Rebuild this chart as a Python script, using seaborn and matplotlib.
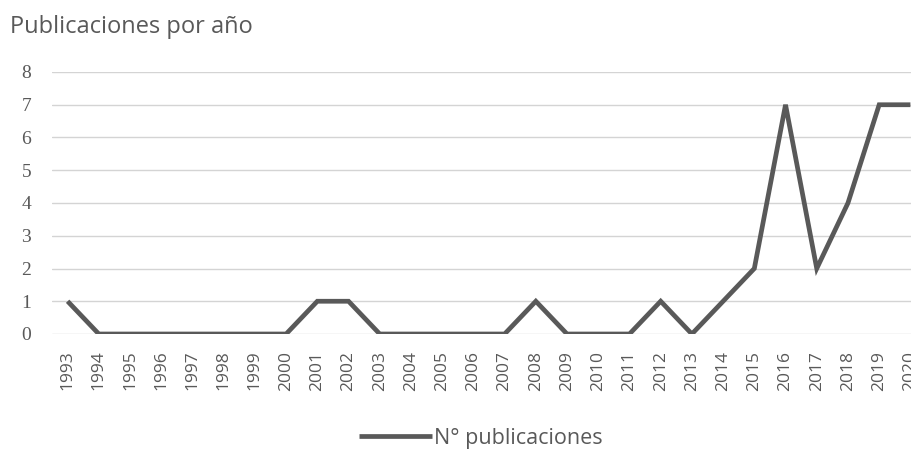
import numpy as np
import pandas as pd
import seaborn as sns
import matplotlib.pyplot as plt

# data
years = list(range(1993, 2021))
publicaciones = [1, 0, 0, 0, 0, 0, 0, 0, 1, 1, 0, 0, 0, 0, 0, 1, 0, 0, 0, 1, 0, 1, 2, 7, 2, 4, 7, 7]
y_ticks = list(range(0, 9))

df = pd.DataFrame({'year': years, 'n': publicaciones})

sns.set_theme(style='white')
plt.rcParams['font.family'] = ['Open Sans', 'DejaVu Sans']

TXT = '#595959'
fig = plt.figure(figsize=(9.11, 4.54), dpi=100)
# chart area is cropped on the right in the original, so axes run past the figure edge
ax = fig.add_axes([52 / 911, 120 / 454, (926 - 52) / 911, (334 - 72) / 454])

sns.lineplot(data=df, x='year', y='n', ax=ax, color='#595959', linewidth=3.4,
             label='N° publicaciones', solid_joinstyle='miter', solid_capstyle='butt')

ax.set_xlim(1992.5, 2020.5)
ax.set_ylim(0, 8)
ax.set_xticks(years)
ax.set_xticklabels([str(y) for y in years], rotation=90, fontsize=12.5, color=TXT)
ax.set_yticks(y_ticks)
ax.set_yticklabels([str(v) for v in y_ticks], fontsize=14, color=TXT, family='Liberation Serif')
ax.tick_params(axis='x', length=0, pad=12)
ax.tick_params(axis='y', length=0, pad=15)
ax.set_xlabel('')
ax.set_ylabel('')
ax.grid(axis='y', color='#d4d4d4', linewidth=1.0)
ax.set_axisbelow(True)
for s in ax.spines.values():
    s.set_visible(False)

ax.get_legend().remove()
h, l = ax.get_legend_handles_labels()
fig.legend(h, l, loc='center', bbox_to_anchor=(0.528, 0.035), frameon=False,
           fontsize=15.5, handlelength=3.4, handletextpad=0.1, labelcolor=TXT,
           borderpad=0)

fig.text(10 / 911, 1 - 27 / 454, 'Publicaciones por año', fontsize=17, color=TXT,
         va='center', ha='left')

fig.savefig('out.png', dpi=100)
